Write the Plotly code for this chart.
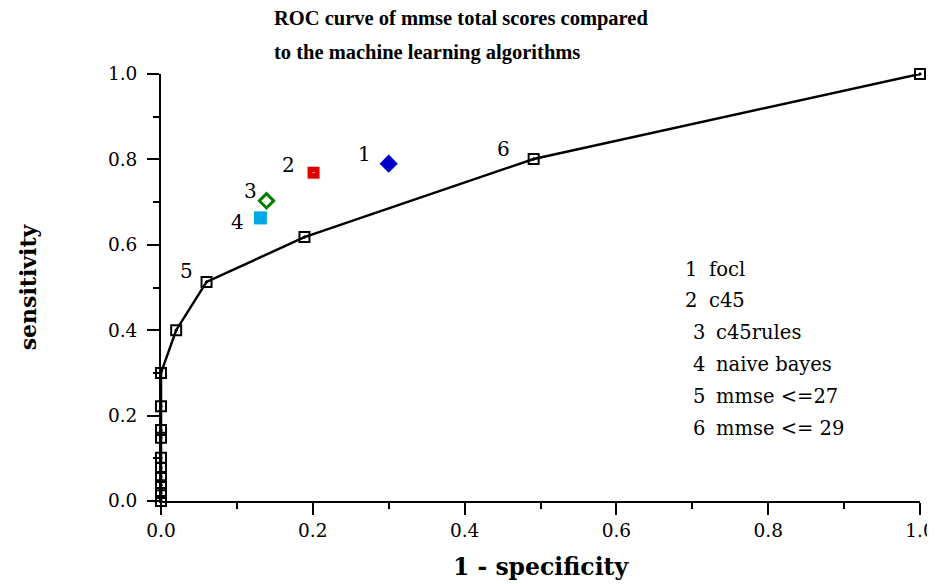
import plotly.graph_objects as go

# ROC curve for MMSE total scores (1 - specificity, sensitivity)
roc_fpr = [0.0, 0.0, 0.0, 0.0, 0.0, 0.0, 0.0, 0.0, 0.0, 0.0, 0.020, 0.060, 0.189, 0.491, 1.0]
roc_tpr = [0.0, 0.019, 0.037, 0.056, 0.077, 0.101, 0.148, 0.166, 0.222, 0.300, 0.400, 0.513, 0.618, 0.801, 1.0]

# machine learning algorithms
algo_ids = ["1", "2", "3", "4"]
algo_names = ["focl", "c45", "c45rules", "naive bayes"]
algo_fpr = [0.300, 0.201, 0.139, 0.131]
algo_tpr = [0.790, 0.769, 0.703, 0.663]

# labelled thresholds on the ROC curve
thr_ids = ["5", "6"]
thr_names = ["mmse <=27", "mmse <= 29"]
thr_index = [11, 13]

legend_ids = algo_ids + thr_ids
legend_names = algo_names + thr_names

x_ticks = [0.0, 0.2, 0.4, 0.6, 0.8, 1.0]
y_ticks = [0.0, 0.2, 0.4, 0.6, 0.8, 1.0]

SERIF = "DejaVu Serif, serif"
TITLE_FONT = "Liberation Serif, Times New Roman, serif"

fig = go.Figure()

fig.add_trace(go.Scatter(
    x=roc_fpr, y=roc_tpr, mode="lines+markers",
    line=dict(color="black", width=2.5),
    marker=dict(symbol="square-open-dot", size=10, color="black", line=dict(width=2, color="black")),
    cliponaxis=False, showlegend=False, name="mmse",
))

algo_styles = [
    dict(symbol="diamond", size=14, color="#0000CC", line=dict(width=0)),
    dict(symbol="square-dot", size=13, color="#DD0000", line=dict(width=1, color="white")),
    dict(symbol="diamond-open", size=11, color="#008000", line=dict(width=3, color="#008000")),
    dict(symbol="square", size=13, color="#00A8E8", line=dict(width=0)),
]
for i in range(len(algo_ids)):
    fig.add_trace(go.Scatter(
        x=[algo_fpr[i]], y=[algo_tpr[i]], mode="markers",
        marker=algo_styles[i], cliponaxis=False, showlegend=False, name=algo_names[i],
    ))

# point labels
label_shift = [(-24, 10), (-25, 8), (-16, 10), (-23, -4)]
for i in range(len(algo_ids)):
    fig.add_annotation(x=algo_fpr[i], y=algo_tpr[i], text=algo_ids[i], showarrow=False,
                       xshift=label_shift[i][0], yshift=label_shift[i][1],
                       font=dict(family=SERIF, size=20, color="black"))
thr_shift = [(-20, 11), (-30, 10)]
for i in range(len(thr_ids)):
    k = thr_index[i]
    fig.add_annotation(x=roc_fpr[k], y=roc_tpr[k], text=thr_ids[i], showarrow=False,
                       xshift=thr_shift[i][0], yshift=thr_shift[i][1],
                       font=dict(family=SERIF, size=20, color="black"))

# in-plot legend text block
for i in range(len(legend_ids)):
    indent = 0.0 if i < 2 else 0.0106
    ymid = 0.5433 - i * 0.0745
    fig.add_annotation(xref="paper", yref="paper", x=0.6877 + indent, y=ymid,
                       xanchor="left", yanchor="middle", text=legend_ids[i], showarrow=False,
                       font=dict(family=SERIF, size=19.5, color="black"))
    fig.add_annotation(xref="paper", yref="paper", x=0.7194 + indent * 0.9, y=ymid,
                       xanchor="left", yanchor="middle", text=legend_names[i], showarrow=False,
                       font=dict(family=SERIF, size=19.5, color="black"))

# title (two lines)
fig.add_annotation(xref="paper", yref="paper", x=0.1462, y=1.131, xanchor="left", yanchor="middle",
                   text="<b>ROC curve of mmse total scores compared</b>", showarrow=False,
                   font=dict(family=TITLE_FONT, size=20.5, color="black"))
fig.add_annotation(xref="paper", yref="paper", x=0.1462, y=1.0515, xanchor="left", yanchor="middle",
                   text="<b>to the machine learning algorithms</b>", showarrow=False,
                   font=dict(family=TITLE_FONT, size=20.5, color="black"))

axis_common = dict(
    range=[0, 1], showgrid=False, zeroline=False, automargin=False,
    showline=True, linecolor="black", linewidth=2,
    ticks="outside", ticklen=12, tickwidth=2, tickcolor="black",
    tickformat=".1f", ticklabeloverflow="allow",
    tickfont=dict(family=SERIF, size=18.5, color="black"),
    minor=dict(dtick=0.1, ticks="outside", ticklen=6, tickwidth=2, tickcolor="black"),
)

fig.update_layout(
    width=927, height=576,
    margin=dict(l=153, r=15, t=66, b=83),
    paper_bgcolor="white", plot_bgcolor="white",
    font=dict(family=SERIF, color="black"),
    xaxis=dict(axis_common, tickvals=x_ticks,
               title=dict(text="<b>1 - specificity</b>", font=dict(family=SERIF, size=23.5), standoff=18)),
    yaxis=dict(axis_common, tickvals=y_ticks, ticklabelstandoff=6,
               title=dict(text="<b>sensitivity</b>", font=dict(family=SERIF, size=22), standoff=65)),
    showlegend=False,
)

fig.write_html("out.html")
